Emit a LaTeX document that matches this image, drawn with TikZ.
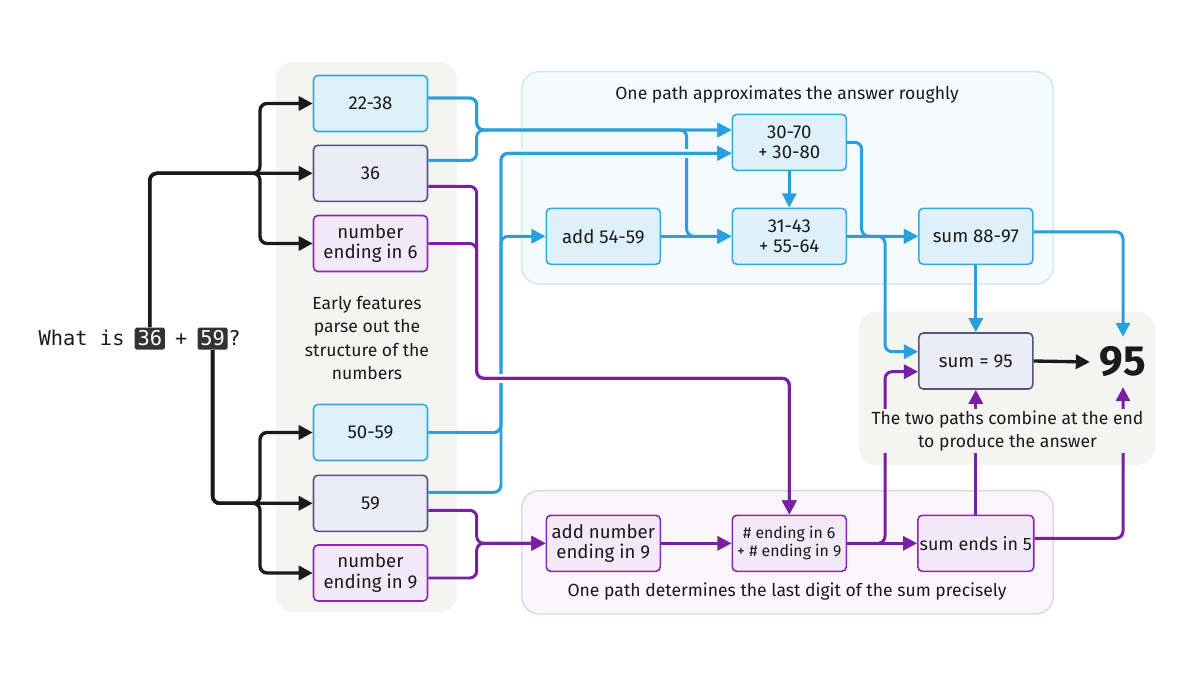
\documentclass[tikz,border=0pt]{standalone}
\usepackage{fontspec}
\setmainfont{Fira Sans}
\setmonofont{DejaVu Sans Mono}
\usetikzlibrary{arrows.meta, positioning}

\definecolor{inkblack}{RGB}{26,26,26}
\definecolor{qdark}{RGB}{51,51,51}
\definecolor{lineblue}{RGB}{41,160,221}
\definecolor{linepurple}{RGB}{123,31,162}
\definecolor{bluefill}{RGB}{222,240,250}
\definecolor{blueedge}{RGB}{58,166,222}
\definecolor{numfill}{RGB}{236,236,246}
\definecolor{numedge}{RGB}{84,84,124}
\definecolor{purpfill}{RGB}{243,233,248}
\definecolor{purpedge}{RGB}{140,40,180}
\definecolor{grayback}{RGB}{244,244,242}
\definecolor{bluepanel}{RGB}{244,250,253}
\definecolor{bluepanedge}{RGB}{205,231,243}
\definecolor{purppanel}{RGB}{250,246,252}
\definecolor{purppanedge}{RGB}{226,208,236}

\tikzset{
  feat/.style={draw, rounded corners=2.5pt, line width=0.9pt, minimum width=2.28cm, minimum height=1.12cm, inner sep=1pt, align=center, text=inkblack, font=\fontsize{10.6}{11.5}\selectfont},
  bluefeat/.style={feat, fill=bluefill, draw=blueedge},
  numfeat/.style={feat, fill=numfill, draw=numedge},
  purpfeat/.style={feat, fill=purpfill, draw=purpedge},
  panel/.style={rounded corners=10pt, line width=0.8pt},
  caption/.style={align=center, text=inkblack, font=\fontsize{10}{13.2}\selectfont},
  qtext/.style={inner sep=0pt, text=inkblack, font=\ttfamily\fontsize{11.6}{12}\selectfont},
  qnum/.style={qtext, fill=qdark, text=white, rounded corners=1pt, inner xsep=1.6pt, minimum height=12.6pt},
  wire/.style={line width=1.7pt, rounded corners=4pt},
  bwire/.style={wire, draw=lineblue},
  pwire/.style={wire, draw=linepurple},
  kwire/.style={wire, draw=inkblack, line width=1.9pt},
  tip/.style={-{Triangle[length=8pt, width=8pt]}},
  gap/.style={line width=5pt, draw=#1},
}

\begin{document}
\begin{tikzpicture}[x=0.02cm, y=-0.02cm]
\useasboundingbox (0,0) rectangle (1200,675);

% Define the background panels
\fill[panel, grayback] (276,62) rectangle (457,612);
\draw[panel, fill=bluepanel, draw=bluepanedge] (521.7,71.7) rectangle (1053.3,284);
\draw[panel, fill=purppanel, draw=purppanedge] (521.7,490.7) rectangle (1053.3,614);
\fill[panel, grayback] (858.5,311.7) rectangle (1155,465);

% Define the question
\node[qtext, anchor=base west] (qw) at (38.3,346) {What is};
\node[qnum, base right=5.4pt of qw] (q36) {36};
\node[qtext, base right=5.4pt of q36] (qp) {+};
\node[qnum, base right=5.4pt of qp] (q59) {59};
\node[qtext, base right=0pt of q59] (qm) {?};

% Define the early features
\foreach \nm/\y/\st/\txt in {f2238/103.5/bluefeat/22-38, f36/173.3/numfeat/36, fe6/243.5/purpfeat/{number\\ending in 6}}
    \node[\st] (\nm) at (370.5,\y) {\txt};
\foreach \nm/\y/\st/\txt in {f5059/432.5/bluefeat/50-59, f59/503.3/numfeat/59, fe9/573/purpfeat/{number\\ending in 9}}
    \node[\st] (\nm) at (370.5,\y) {\txt};

% Define the approximate path
\node[bluefeat] (a3070) at (789.3,142.3) {30-70\\+ 30-80};
\node[bluefeat] (a5459) at (603.3,236.3) {add 54-59};
\node[bluefeat] (a3143) at (789.3,236.3) {31-43\\+ 55-64};
\node[bluefeat] (a8897) at (975.8,236.3) {sum 88-97};

% Define the last digit path
\node[purpfeat] (d9) at (603.3,543.3) {add number\\ending in 9};
\node[purpfeat, font=\fontsize{9}{10.2}\selectfont] (d69) at (789.3,543.3) {\# ending in 6\\+ \# ending in 9};
\node[purpfeat, font=\fontsize{10.2}{11.5}\selectfont] (d5) at (975.8,543.3) {sum ends in 5};

% Define the result
\node[numfeat] (s95) at (975.8,361) {sum = 95};
\node[inner sep=5.5pt, text=inkblack, font=\fontsize{24}{24}\selectfont\bfseries] (ans) at (1123,362) {95};

% Lanes of the connectors
\coordinate (ktop) at (260,173.3);
\coordinate (kbot) at (260,503.3);
\coordinate (bjoin) at (476.7,130);
\coordinate (bfork) at (686.7,130);
\coordinate (btop) at (501,153.3);
\coordinate (blane) at (501,300);
\coordinate (bturn) at (861.7,190);
\coordinate (bdrop) at (885,300);
\coordinate (pjoin) at (476.7,378.3);
\coordinate (pmerge) at (476.7,543.3);
\coordinate (prise) at (885,450);

% Question to features
\draw[kwire, tip] (q36.north) |- (f36.west);
\draw[kwire, tip] (q36.north) |- (ktop) |- (f2238.west);
\draw[kwire, tip] (q36.north) |- (ktop) |- (fe6.west);
\draw[kwire, tip] (q59.south) |- (f59.west);
\draw[kwire, tip] (q59.south) |- (kbot) |- (f5059.west);
\draw[kwire, tip] (q59.south) |- (kbot) |- (fe9.west);

% Blue edges
\draw[bwire, tip] ([shift={(0,-5.5)}]f2238.east) -| (bjoin) -- ([shift={(0,-12.3)}]a3070.west);
\draw[bwire, tip] ([shift={(0,-13)}]f36.east) -| (bjoin) -- ([shift={(0,-12.3)}]a3070.west);
\draw[bwire, tip] ([shift={(0,-5.5)}]f2238.east) -| (bjoin) -- (bfork) |- (a3143.west);
\draw[gap=bluepanel, shorten <=6pt, shorten >=15pt] (btop) -- ([shift={(0,11)}]a3070.west);
\draw[bwire, tip] (f5059.east) -| (blane) |- ([shift={(0,11)}]a3070.west);
\draw[bwire, tip] ([shift={(0,-11)}]f59.east) -| (blane) |- ([shift={(0,11)}]a3070.west);
\draw[bwire, tip] (f5059.east) -| (blane) |- (a5459.west);
\draw[bwire, tip] (a5459.east) -- (a3143.west);
\draw[bwire, tip] (a3070.south) -- (a3143.north);
\draw[bwire, tip] (a3070.east) -| (bturn) |- (a8897.west);
\draw[bwire, tip] (a3143.east) -- (a8897.west);
\draw[bwire, tip] (a3143.east) -| (bdrop) |- ([shift={(0,-9.3)}]s95.west);
\draw[bwire, tip] (a8897.south) -- (s95.north);
\draw[bwire, tip] ([shift={(0,-4.5)}]a8897.east) -| (ans.north);

% Purple edges
\draw[gap=white, shorten <=8pt, shorten >=40pt] (pjoin) -| (d69.north);
\draw[pwire, tip] ([shift={(0,13)}]f36.east) -| (pjoin) -| (d69.north);
\draw[pwire, tip] (fe6.east) -| (pjoin) -| (d69.north);
\draw[pwire, tip] ([shift={(0,7)}]f59.east) -| (pmerge) -- (d9.west);
\draw[pwire, tip] ([shift={(0,5)}]fe9.east) -| (pmerge) -- (d9.west);
\draw[pwire, tip] (d9.east) -- (d69.west);
\draw[pwire, tip] (d69.east) -- (d5.west);
\draw[pwire, tip] (d69.east) -| (prise) |- ([shift={(0,10.7)}]s95.west);
\draw[pwire, tip] (d5.north) -- (s95.south);
\draw[pwire, tip] ([shift={(0,-5)}]d5.east) -| (ans.south);
\draw[kwire, tip] (s95.east) -- (ans.west);

% Captions
\node[caption] (cleft) at (367,338) {Early features\\parse out the\\structure of the\\numbers};
\node[caption] (ctop) at (787,95) {One path approximates the answer roughly};
\node[caption] (cbot) at (787,592) {One path determines the last digit of the sum precisely};
\node[caption, fill=grayback, inner sep=1pt] (cright) at (1007.5,431) {The two paths combine at the end\\to produce the answer};
\end{tikzpicture}
\end{document}
